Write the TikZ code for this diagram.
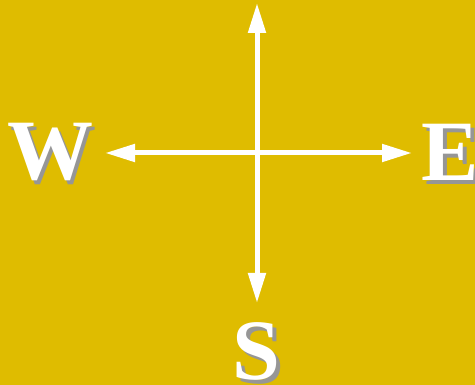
\documentclass[tikz,border=0pt]{standalone}
\usepackage{fontspec}
\setmainfont{Liberation Serif}
\usetikzlibrary{arrows.meta}
\definecolor{compassbg}{RGB}{223,188,0}
\definecolor{shadowgray}{RGB}{150,150,150}

\begin{document}
\begin{tikzpicture}[
    x=1pt, y=-1pt,
    letter/.style={inner sep=0pt, text=white, font=\fontsize{86}{86}\selectfont\bfseries},
    shadow/.style={letter, text=shadowgray},
    axis/.style={draw=white, line width=5pt, {Triangle[length=30pt, width=17pt]}-{Triangle[length=30pt, width=17pt]}},
]
    \fill[compassbg] (0, 0) rectangle (475, 385);
    \useasboundingbox (0, 0) rectangle (475, 385);

    \node[shadow] (Wsh) at (54, 156) {W};
    \node[shadow] (Esh) at (454, 156) {E};
    \node[shadow] (Ssh) at (260, 355) {S};

    \node[letter] (W) at (50, 152) {W};
    \node[letter] (E) at (450, 152) {E};
    \node[letter] (S) at (256, 351) {S};

    \coordinate (tipW) at (105, 153);
    \coordinate (tipE) at (412, 153);
    \coordinate (tipN) at (257, 3);
    \coordinate (tipS) at (257, 303);

    \draw[axis] (tipW) -- (tipE);
    \draw[axis] (tipN) -- (tipS);
\end{tikzpicture}
\end{document}
